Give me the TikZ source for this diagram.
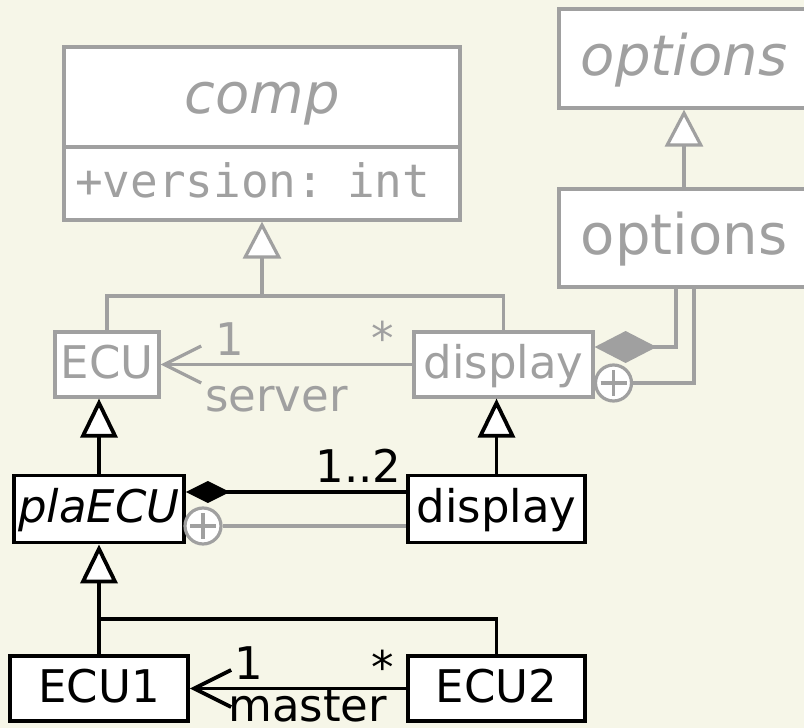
\documentclass[tikz,border=0pt]{standalone}
\usepackage{fontspec}
\setmainfont{DejaVu Sans}
\setmonofont{DejaVu Sans Mono}
\usetikzlibrary{arrows.meta}
\definecolor{bg}{RGB}{246,246,232}
\definecolor{lg}{RGB}{160,160,160}
\begin{document}
\begin{tikzpicture}[x=1pt,y=-1pt,
  box/.style={draw, fill=white, inner sep=0pt, text height=36pt, text depth=9pt,
    font=\fontsize{45pt}{54pt}\selectfont},
  graybox/.style={box, draw=lg, text=lg, line width=3.2pt},
  blackbox/.style={box, draw=black, text=black, line width=3.8pt},
  bigfont/.style={font=\fontsize{56pt}{66pt}\selectfont, text height=44.8pt, text depth=11.2pt},
  gline/.style={draw=lg, line width=3.2pt},
  bline/.style={draw=black, line width=3.8pt},
  genG/.style={-{Triangle[length=37pt,width=38pt,fill=white]}},
  genB/.style={-{Triangle[length=39pt,width=37pt,fill=white]}},
  assoc/.style={-{Straight Barb[length=37pt,width=37pt]}},
  nest/.style={circle, draw=lg, fill=white, line width=3.2pt, minimum size=36pt, inner sep=0pt},
  lbl/.style={inner sep=0pt, anchor=base, font=\fontsize{45pt}{54pt}\selectfont},
]
\fill[bg] (0,0) rectangle (804,728);
\clip (0,0) rectangle (804,728);

% gray upper classes
\node[graybox, bigfont, minimum width=396pt, minimum height=100pt] (compname) at (262,97) {\itshape comp};
\node[graybox, font=\fontsize{46pt}{55pt}\ttfamily, text height=36.8pt, text depth=9.2pt, text width=374pt, inner xsep=11pt, align=left, minimum height=73pt] (compattr) at (262,183.5) {+version: int};
\node[graybox, bigfont, minimum width=250pt, minimum height=99pt] (optT) at (684,58.5) {\itshape options};
\node[graybox, bigfont, minimum width=250pt, minimum height=98pt] (optL) at (684,238) {options};
\node[graybox, minimum width=104pt, minimum height=65pt] (ECU) at (107,364.5) {ECU};
\node[graybox, minimum width=179pt, minimum height=65pt] (displayG) at (503.5,364.5) {display};

% black classes
\node[blackbox, minimum width=170pt, minimum height=67pt] (plaECU) at (99,509) {\itshape plaECU};
\node[blackbox, minimum width=177pt, minimum height=67pt] (displayB) at (496.5,509) {display};
\node[blackbox, minimum width=178pt, minimum height=65pt] (ECU1) at (99,688.5) {ECU1};
\node[blackbox, minimum width=177pt, minimum height=65pt] (ECU2) at (496.5,688.5) {ECU2};

% gray generalizations
\coordinate (bar1) at (262,296);
\draw[gline] (ECU.north) |- (bar1);
\draw[gline] (displayG.north) |- (bar1);
\draw[gline, genG] (bar1) -- (compattr.south);
\draw[gline, genG] (optL.north) -- (optT.south);

% gray association
\draw[gline, assoc] (displayG.west) -- (ECU.east);
\node[lbl, text=lg] (m1) at (230,355) {1};
\node[lbl, text=lg] (m2) at (383,354) {*};
\node[lbl, text=lg, anchor=base west] (srv) at (205,411) {server};

% gray composition and nesting to options
\draw[gline, {Diamond[length=62pt,width=32pt,fill=lg]}-] ([yshift=17.5pt]displayG.east) -| ([xshift=-8pt]optL.south);
\node[nest] (nest1) at (613.5,383) {};
\draw[gline] ([yshift=13pt]nest1.center) -- ([yshift=-13pt]nest1.center)
             ([xshift=-13pt]nest1.center) -- ([xshift=13pt]nest1.center);
\draw[gline] (nest1.east) -| ([xshift=10pt]optL.south);

% black generalizations to gray
\draw[bline, genB] (plaECU.north) -- (plaECU.north |- ECU.south);
\draw[bline, genB] (displayB.north) -- (displayB.north |- displayG.south);

% black composition
\draw[bline, {Diamond[length=44pt,width=22pt]}-] ([yshift=17pt]plaECU.east) -- ([yshift=17pt]plaECU.east -| displayB.west);
\node[lbl] (m3) at (358.5,482) {1..2};

% nesting plaECU / display
\node[nest] (nest2) at (203,526) {};
\draw[gline] ([yshift=13pt]nest2.center) -- ([yshift=-13pt]nest2.center)
             ([xshift=-13pt]nest2.center) -- ([xshift=13pt]nest2.center);
\draw[gline] (nest2.east) -- (nest2.east -| displayB.west);

% ECU1 / ECU2 generalization
\coordinate (bar2) at (99,619);
\draw[bline] (ECU1.north) |- (bar2);
\draw[bline] (ECU2.north) |- (bar2);
\draw[bline, genB] (bar2) -- (plaECU.south);

% master association
\draw[bline, assoc] (ECU2.west) -- (ECU1.east);
\node[lbl] (m4) at (249,679) {1};
\node[lbl] (m5) at (383,683) {*};
\node[lbl, anchor=base west] (mst) at (228,721) {master};
\end{tikzpicture}
\end{document}
